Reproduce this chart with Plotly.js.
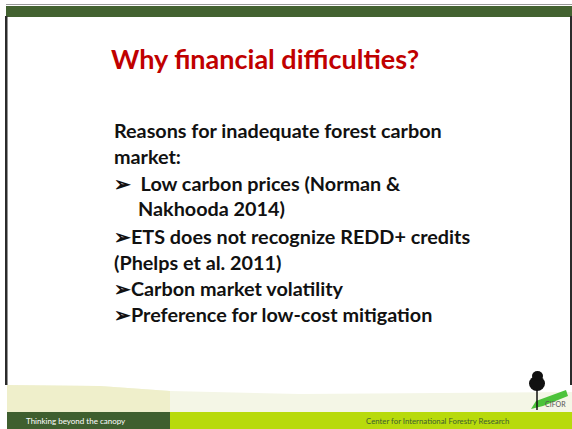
<!DOCTYPE html>
<html><head><meta charset="utf-8">
<script src="https://cdn.plot.ly/plotly-3.0.1.min.js"></script>
<style>html,body{margin:0;padding:0;background:#fff}#c{width:572px;height:429px}</style>
</head><body><div id="c"></div>
<script>
const titleText = "Why financial difficulties?";
const bodyLines = [
  "Reasons for inadequate forest carbon",
  "market:",
  "\u27A2  Low carbon prices (Norman &",
  "     Nakhooda 2014)",
  "\u27A2ETS does not recognize REDD+ credits",
  "(Phelps et al. 2011)",
  "\u27A2Carbon market volatility",
  "\u27A2Preference for low-cost mitigation"
];
const lineY = [130, 156, 183, 208, 236, 262, 288, 314];
const footerLeft = "Thinking beyond the canopy";
const footerRight = "Center for International Forestry Research";
const logoText = "CIFOR";

const ann = [];
ann.push({x:265, y:58, xref:'x', yref:'y', text:'<b>'+titleText+'</b>', showarrow:false,
  font:{family:'Lato, sans-serif', size:27, color:'#c00000', weight:900}, xanchor:'center', yanchor:'middle'});
bodyLines.forEach((t,i)=>{
  ann.push({x:112, y:lineY[i], xref:'x', yref:'y', text:'<b>'+t.replace(/  +/g, m=>'&nbsp;'.repeat(m.length))+'</b>', showarrow:false,
    font:{family:'Lato, sans-serif', size:19.8, color:'#111', weight:900}, xanchor:'left', yanchor:'middle'});
});
ann.push({x:24, y:421, xref:'x', yref:'y', text:footerLeft, showarrow:false,
  font:{family:'Lato, sans-serif', size:8, color:'#ffffff'}, xanchor:'left', yanchor:'middle'});
ann.push({x:511, y:421, xref:'x', yref:'y', text:footerRight, showarrow:false,
  font:{family:'Lato, sans-serif', size:7.8, color:'#3d5e2e'}, xanchor:'right', yanchor:'middle'});
ann.push({x:568, y:404, xref:'x', yref:'y', text:logoText, showarrow:false,
  font:{family:'Lato, sans-serif', size:7, color:'#555'}, xanchor:'right', yanchor:'middle'});

const shapes = [
  {type:'line', x0:6, x1:572, y0:4.5, y1:4.5, line:{color:'#999', width:1}},
  {type:'rect', x0:6, x1:572, y0:6, y1:17, fillcolor:'#436230', line:{width:0}},
  {type:'rect', x0:5, x1:7.5, y0:16, y1:385, fillcolor:'#2b2b2b', line:{width:0}},
  {type:'rect', x0:570, x1:572, y0:16, y1:385, fillcolor:'#2b2b2b', line:{width:0}},
  {type:'path', path:'M 7 385 L 100 386 L 170 391 L 300 394 L 572 392 L 572 412 L 7 412 Z', fillcolor:'#f4f6e6', line:{width:0}},
  {type:'path', path:'M 7 385 L 100 386 L 170 391 L 170 412 L 7 412 Z', fillcolor:'#efefcb', line:{width:0}},
  {type:'rect', x0:7, x1:170, y0:412, y1:429, fillcolor:'#3f5f2f', line:{width:0}},
  {type:'rect', x0:170, x1:572, y0:412, y1:429, fillcolor:'#b8da0c', line:{width:0}},
  {type:'path', path:'M 531 409 L 536 401 L 566 390 L 568 396 L 543 406 Z', fillcolor:'#4cc33a', line:{width:0}},
  {type:'line', x0:537, x1:537, y0:386, y1:410, line:{color:'#111', width:1.5}},
  {type:'circle', x0:529, x1:545, y0:376, y1:391, fillcolor:'#111', line:{width:0}},
  {type:'circle', x0:532, x1:543, y0:371, y1:381, fillcolor:'#111', line:{width:0}}
];

Plotly.newPlot('c', [{x:[0], y:[0], mode:'markers', marker:{opacity:0}, hoverinfo:'skip', showlegend:false}], {
  width:572, height:429, margin:{l:0,r:0,t:0,b:0},
  paper_bgcolor:'#ffffff', plot_bgcolor:'#ffffff',
  xaxis:{range:[0,572], visible:false, fixedrange:true},
  yaxis:{range:[429,0], visible:false, fixedrange:true},
  annotations:ann, shapes:shapes, showlegend:false
}, {staticPlot:true, displayModeBar:false});
</script></body></html>
